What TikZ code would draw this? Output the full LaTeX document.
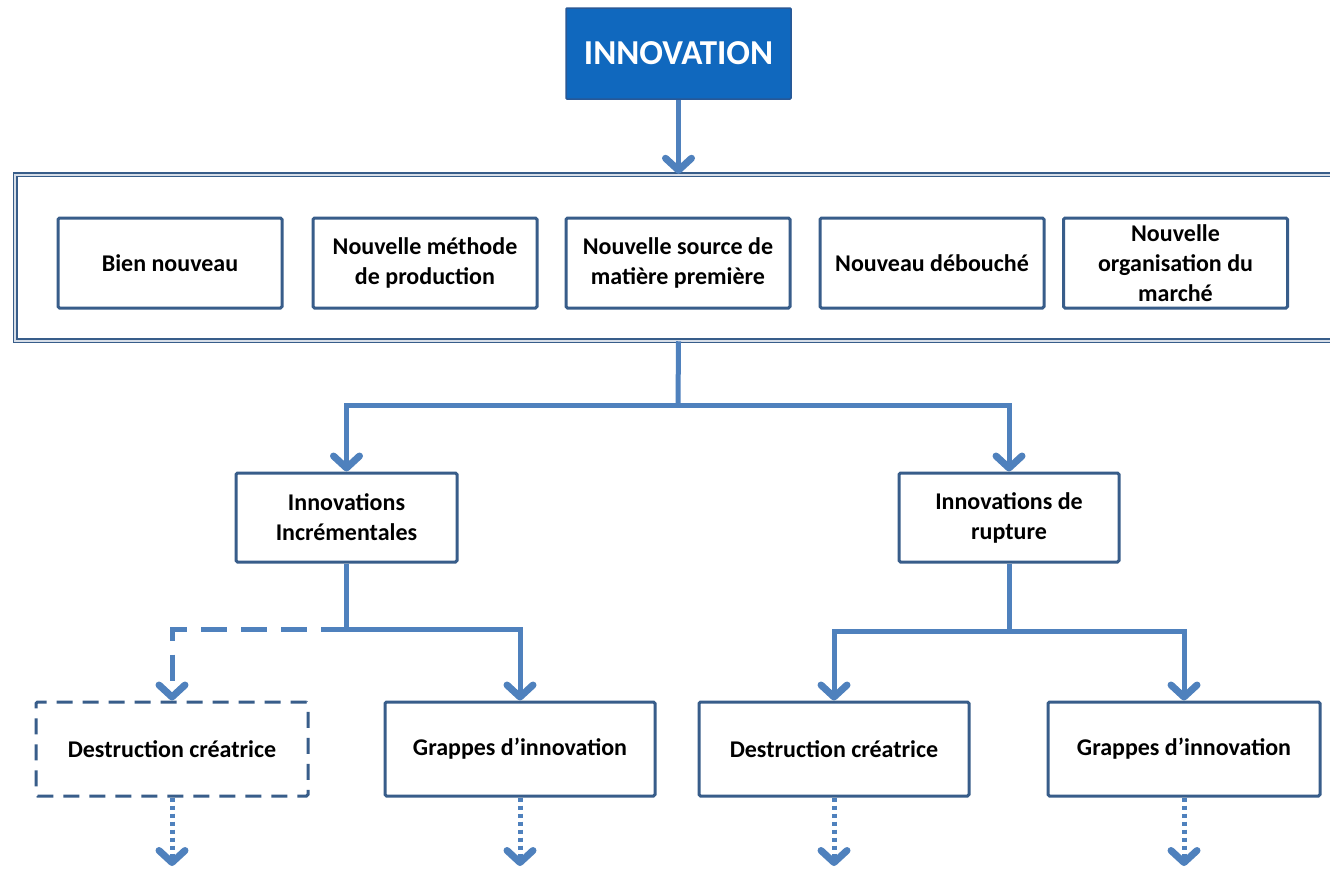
\documentclass[tikz,border=0pt]{standalone}
\usepackage{fontspec}
\setmainfont{Carlito}
\usetikzlibrary{arrows.meta}
\definecolor{conn}{RGB}{79,129,189}
\definecolor{bord}{RGB}{56,93,138}
\definecolor{innovfill}{RGB}{16,104,190}
\definecolor{innovbord}{RGB}{40,88,150}
\definecolor{gapcol}{RGB}{215,222,232}
\begin{document}
\begin{tikzpicture}[x=1pt,y=-1pt,
  box/.style={draw=bord, line width=3pt, rounded corners=1.5pt, fill=white, align=center,
    font=\fontsize{24}{30}\selectfont\bfseries, text=black, inner sep=0pt,
    minimum width=224pt, minimum height=90pt},
  dbox/.style={box, dash pattern=on 16pt off 10pt},
  frame/.style={draw=bord, line width=1.5pt, double=gapcol, double distance=2pt,
    minimum width=1340pt, minimum height=166pt, inner sep=0pt},
  topbox/.style={draw=innovbord, line width=1.5pt, fill=innovfill, text=white,
    font=\fontsize{35}{42}\selectfont\bfseries, minimum width=225pt, minimum height=91pt, rounded corners=1pt},
  link/.style={draw=conn, line width=5pt},
  arr/.style={link, -{Straight Barb[length=12pt,width=26pt,line width=7pt,round]}},
  dasharr/.style={arr, dash pattern=on 26pt off 14pt},
  dotarr/.style={arr, dash pattern=on 4pt off 4pt}
]
\useasboundingbox (0,0) rectangle (1330,870);
\clip (0,0) rectangle (1330,870);
\fill[white] (0,0) rectangle (1330,870);

\node[topbox] (innov) at (678.5,53.5) {INNOVATION};

\node[frame] (frame) at (685,257.5) {};
\node[box] (b1) at (170,263) {Bien nouveau};
\node[box] (b2) at (425,263) {Nouvelle méthode\\de production};
\node[box] (b3) at (678,263) {Nouvelle source de\\matière première};
\node[box] (b4) at (932,263) {Nouveau débouché};
\node[box] (b5) at (1175.5,263) {Nouvelle\\organisation du\\marché};

\node[box, minimum width=221pt, minimum height=89pt] (inc) at (346.5,517.5) {Innovations\\Incrémentales};
\node[box, minimum width=220pt, minimum height=89pt] (rup) at (1009,517.5) {Innovations de\\rupture};

\node[dbox, minimum width=272pt, minimum height=94pt] (d1) at (172,749) {Destruction créatrice};
\node[box, minimum width=270pt, minimum height=94pt] (g1) at (520,749) {Grappes d’innovation};
\node[box, minimum width=270pt, minimum height=94pt] (d2) at (834,749) {Destruction créatrice};
\node[box, minimum width=272pt, minimum height=94pt] (g2) at (1184,749) {Grappes d’innovation};

% connectors
\draw[arr] (innov) -- (innov.south |- frame.north);

\coordinate (j1) at (678,405);
\draw[link] (innov.south |- frame.south) -- (j1);
\draw[arr] (j1) -| (inc);
\draw[arr] (j1) -| (rup);

\coordinate (j2) at (346.5,629);
\draw[link] (inc) -- (j2);
\draw[arr] (j2) -| (g1);
\draw[dasharr] (j2) -| (d1);

\coordinate (j3) at (1009,631);
\draw[link] (rup) -- (j3);
\draw[arr] (j3) -| (d2);
\draw[arr] (j3) -| (g2);

\coordinate (e) at (0,866);
\draw[dotarr] (d1) -- (d1.south |- e);
\draw[dotarr] (g1) -- (g1.south |- e);
\draw[dotarr] (d2) -- (d2.south |- e);
\draw[dotarr] (g2) -- (g2.south |- e);
\end{tikzpicture}
\end{document}
